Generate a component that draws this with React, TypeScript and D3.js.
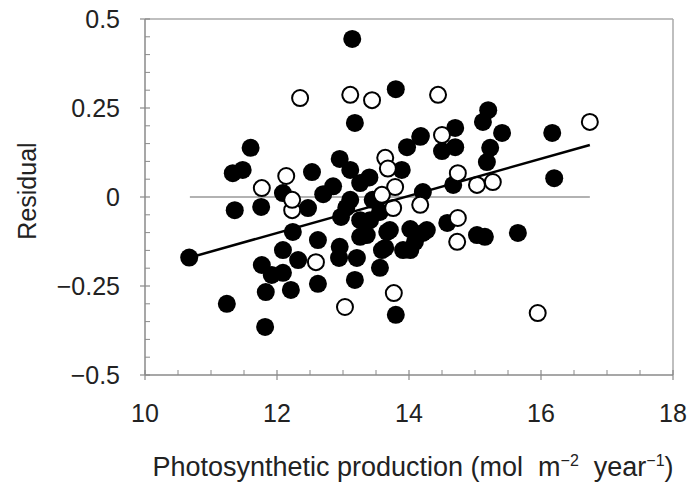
import React from "react";
import * as d3 from "d3";

const filledX = [10.67,11.24,11.82,11.6,11.33,11.48,11.36,11.76,12.09,12.53,12.95,12.7,12.47,12.24,12.62,12.09,12.32,11.77,11.92,12.09,11.83,12.21,12.62,13.18,12.95,12.94,13.21,13.56,13.64,12.97,13.36,13.26,13.71,13.91,14.02,13.11,13.45,13.56,13.8,13.14,13.18,13.8,13.97,14.18,13.89,14.21,14.67,14.7,14.7,14.5,15.2,15.12,15.41,15.23,15.18,16.17,16.2,14.58,15.03,15.15,15.65,13.26,13.41,13.67,14.21,13.26,13.59,14.02,14.09,14.27,13.11,12.85,14.17,13.4,13.05];
const filledY = [-0.17,-0.3,-0.365,0.138,0.067,0.076,-0.037,-0.028,0.011,0.07,0.107,0.008,-0.031,-0.098,-0.121,-0.149,-0.177,-0.191,-0.219,-0.213,-0.267,-0.261,-0.244,-0.233,-0.14,-0.171,-0.171,-0.199,-0.143,-0.056,-0.107,-0.065,-0.093,-0.149,-0.09,-0.008,-0.008,-0.042,-0.331,0.444,0.208,0.303,0.14,0.171,0.076,0.014,0.034,0.194,0.14,0.129,0.244,0.211,0.18,0.138,0.098,0.18,0.053,-0.073,-0.107,-0.112,-0.101,0.039,-0.065,-0.098,-0.101,-0.112,-0.149,-0.149,-0.126,-0.093,0.076,0.03,0.169,0.055,-0.03];

const openX = [12.35,13.11,13.44,14.44,16.74,11.77,12.14,12.23,12.23,12.59,13.03,13.77,15.95,13.64,13.68,13.79,13.59,13.76,14.17,14.74,14.74,14.73,15.03,15.27,14.5];
const openY = [0.278,0.287,0.272,0.287,0.211,0.025,0.059,-0.037,-0.008,-0.183,-0.309,-0.27,-0.326,0.11,0.08,0.028,0.006,-0.031,-0.022,0.067,-0.059,-0.126,0.034,0.042,0.174];

const fitX = [10.68, 16.74];
const fitY = [-0.17, 0.146];
const zeroX = [10.68, 16.74];

const xTicks = [10, 12, 14, 16, 18];
const yTicks = [0.5, 0.25, 0, -0.25, -0.5];
const yTickLabels = ["0.5", "0.25", "0", "\u22120.25", "\u22120.5"];

const W = 687, H = 489;
const left = 145, right = 673, top = 19, bottom = 375;
const font = "'Liberation Sans', Arial, sans-serif";

export default function App() {
  const x = d3.scaleLinear().domain([10, 18]).range([left, right]);
  const y = d3.scaleLinear().domain([-0.5, 0.5]).range([bottom, top]);
  const xMinor = d3.range(10, 18.001, 0.5).filter(v => Math.abs(v % 2) > 1e-6);
  const yMinor = d3.range(-0.5, 0.5001, 0.05).filter(v => Math.abs((v * 4) - Math.round(v * 4)) > 1e-6);
  const line = d3.line<number>().x((_, i) => x(fitX[i])).y(d => y(d));
  const r = 9;
  const axisCol = "#8a8a8a";
  return (
    <div style={{ position: "absolute", left: 0, top: 0 }}>
      <svg width={W} height={H} style={{ display: "block", background: "#fff" }}>
        <rect x={0} y={0} width={W} height={H} fill="#fff" />
        <line x1={left} x2={right} y1={top} y2={top} stroke="#aaa" strokeWidth={1.5} />
        <line x1={right} x2={right} y1={top} y2={bottom} stroke="#aaa" strokeWidth={1.5} />
        <line x1={left} x2={left} y1={top} y2={bottom} stroke={axisCol} strokeWidth={1.5} />
        <line x1={left} x2={right} y1={bottom} y2={bottom} stroke={axisCol} strokeWidth={1.5} />
        {yTicks.map(v => (
          <line key={"yt" + v} x1={left - 5} x2={left + 5} y1={y(v)} y2={y(v)} stroke={axisCol} strokeWidth={1.2} />
        ))}
        {yMinor.map(v => (
          <line key={"ym" + v} x1={left} x2={left + 5} y1={y(v)} y2={y(v)} stroke={axisCol} strokeWidth={1} />
        ))}
        {xTicks.map(v => (
          <line key={"xt" + v} x1={x(v)} x2={x(v)} y1={bottom - 5} y2={bottom + 5} stroke={axisCol} strokeWidth={1.2} />
        ))}
        {xMinor.map(v => (
          <line key={"xm" + v} x1={x(v)} x2={x(v)} y1={bottom - 5} y2={bottom} stroke={axisCol} strokeWidth={1} />
        ))}
        {yTicks.map((v, i) => (
          <text key={"yl" + v} x={120} y={y(v)} dy="0.36em" textAnchor="end" fontFamily={font} fontSize={25} fill="#222">{yTickLabels[i]}</text>
        ))}
        {xTicks.map(v => (
          <text key={"xl" + v} x={x(v)} y={422} textAnchor="middle" fontFamily={font} fontSize={25} fill="#222">{v}</text>
        ))}
        <text x={413} y={476} textAnchor="middle" fontFamily={font} fontSize={27} fill="#222" style={{ whiteSpace: "pre" }}>
          {"Photosynthetic production (mol  m"}<tspan dy={-10} fontSize={16}>{"\u22122"}</tspan><tspan dy={10}>{"  year"}</tspan><tspan dy={-10} fontSize={16}>{"\u22121"}</tspan><tspan dy={10}>{")"}</tspan>
        </text>
        <text transform={`translate(36,${y(0) - 6}) rotate(-90)`} textAnchor="middle" fontFamily={font} fontSize={25} fill="#222">Residual</text>
        <line x1={x(zeroX[0])} x2={x(zeroX[1])} y1={y(0)} y2={y(0)} stroke="#999" strokeWidth={1.5} />
        {filledX.map((v, i) => (
          <circle key={"f" + i} cx={x(v)} cy={y(filledY[i])} r={r} fill="#000" />
        ))}
        {openX.map((v, i) => (
          <circle key={"o" + i} cx={x(v)} cy={y(openY[i])} r={r - 1} fill="#fff" stroke="#000" strokeWidth={2} />
        ))}
        <path d={line(fitY) || ""} fill="none" stroke="#000" strokeWidth={2.5} />
      </svg>
    </div>
  );
}
